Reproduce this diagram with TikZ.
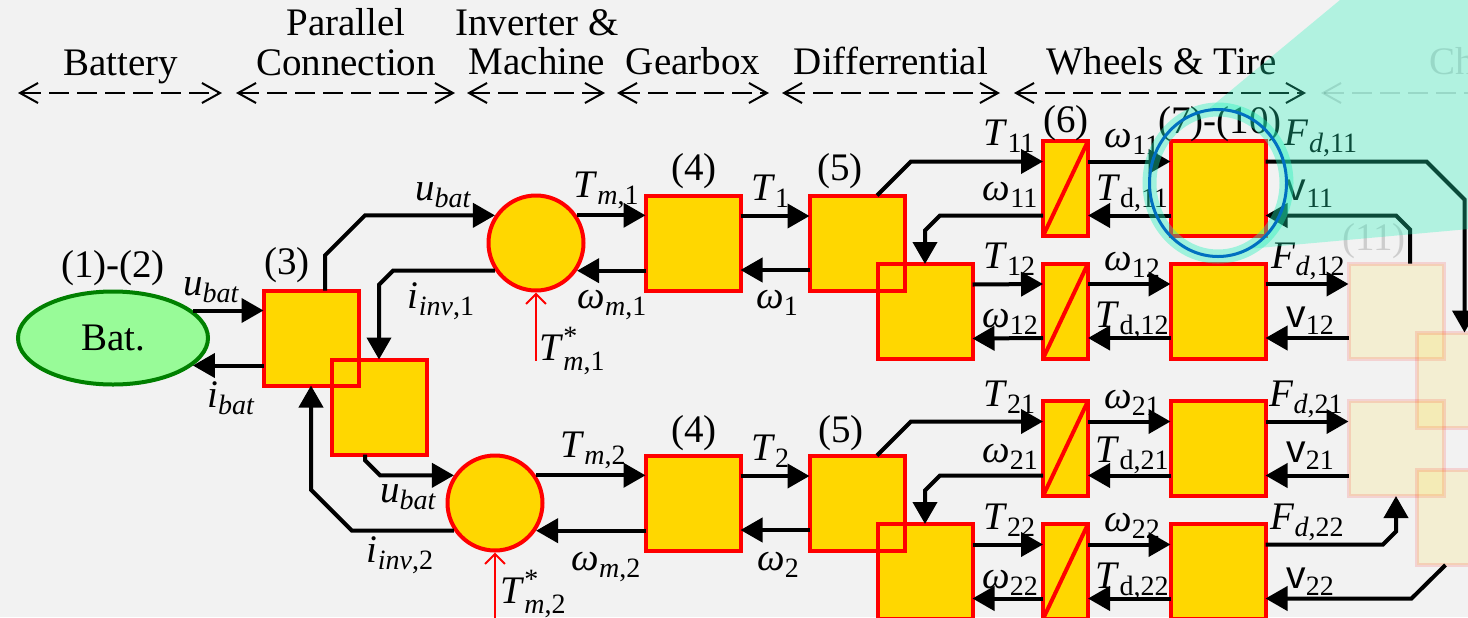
\documentclass[tikz,border=0pt]{standalone}
\usepackage{fontspec}
\setmainfont{Liberation Serif}
\newfontfamily\sansv{Liberation Sans}
\usetikzlibrary{positioning,arrows.meta,calc,shapes.geometric}

\definecolor{boxgold}{RGB}{255,215,0}
\definecolor{batgreen}{RGB}{152,251,152}
\definecolor{batedge}{RGB}{0,128,0}
\definecolor{focusblue}{RGB}{0,112,192}
\definecolor{zoomteal}{RGB}{35,242,187}
\definecolor{bggray}{RGB}{242,242,242}

\newcommand{\subtxt}[1]{\raisebox{-3.5pt}{\fontsize{14}{14}\selectfont #1}}
\newcommand{\vlab}[2]{\textit{#1}\subtxt{#2}}
\newcommand{\tstar}[1]{\textit{T}\rlap{\raisebox{7.5pt}{\fontsize{14}{14}\selectfont *}}\raisebox{-5pt}{\fontsize{14}{14}\selectfont\textit{m},#1}}

\tikzset{
  txt/.style={font=\fontsize{19.5}{22}\selectfont},
  lbl/.style={txt, inner sep=0pt, anchor=base},
  blk/.style={draw=red, fill=boxgold, line width=2pt, minimum width=47.5pt,
    minimum height=47.5pt, inner sep=0pt, outer sep=0pt},
  slipbox/.style={blk, minimum width=22.5pt},
  conv/.style={circle, draw=red, fill=boxgold, line width=2pt, minimum size=47.5pt, inner sep=0pt},
  ghost/.style={blk, opacity=.13},
  edge/.style={draw=red, line width=2pt},
  sig/.style={line width=2pt, -{Triangle[length=11pt,width=12pt]}},
  refsig/.style={red, line width=1pt, -{Straight Barb[length=5pt,width=10pt]}},
  span/.style={line width=1pt, dash pattern=on 10pt off 4pt,
    {Straight Barb[length=9pt,width=10pt]}-{Straight Barb[length=9pt,width=10pt]}},
  focus/.style={ellipse, draw=focusblue, line width=1.5pt, minimum width=68.5pt,
    minimum height=73.5pt, inner sep=0pt,
    preaction={draw=zoomteal, line width=7pt, draw opacity=.4}}
}

\begin{document}
\begin{tikzpicture}[x=0.5pt,y=-0.5pt]
\useasboundingbox (0,0) rectangle (1468,617);
\clip (0,0) rectangle (1468,617);
\fill[bggray] (0,0) rectangle (1468,617);

% stage headers
\foreach \a/\b in {18/222, 236/455, 467/605, 617/769, 782/1000, 1014/1306}
  \draw[span] (\a,93) -- (\b,93);
\draw[span, opacity=.15] (1321,93) -- (1560,93);
\node[lbl] (h-bat) at (121,75) {Battery};
\node[lbl] (h-par1) at (346,35) {Parallel};
\node[lbl] (h-par2) at (346,75) {Connection};
\node[lbl] (h-inv1) at (537,35) {Inverter \&};
\node[lbl] (h-inv2) at (537,74) {Machine};
\node[lbl] (h-gb) at (693,74) {Gearbox};
\node[lbl] (h-dif) at (891,74) {Differrential};
\node[lbl] (h-whl) at (1162,74) {Wheels \& Tire};
\node[lbl, anchor=base west, opacity=.15] (h-ch) at (1429,74) {Chassis};

% battery, parallel connection
\node[ellipse, draw=batedge, fill=batgreen, line width=2pt, minimum width=95pt,
  minimum height=46.5pt, inner sep=0pt, txt] (bat) at (113,338) {Bat.};
\node[blk] (par1) at (311,338) {};
\node[blk] (par2) at (379,407) {};
\draw[edge] (par1.north west) rectangle (par1.south east);

% machines, gearboxes, differentials
\foreach \k/\yc/\xc in {1/243/536, 2/503/495} {
  \node[conv] (inv\k) at (\xc,\yc) {};
  \node[blk] (gb\k) at (693,\yc) {};
  \node[blk] (dif\k) at (857,\yc) {};
  \node[blk] (difb\k) at (925,\yc+68.5) {};
  \draw[edge] (dif\k.north west) rectangle (dif\k.south east);
}

% wheel slip and wheels
\foreach \r/\yc in {11/188.5, 12/311, 21/448.5, 22/571.5} {
  \node[slipbox] (slip\r) at (1065.5,\yc) {};
  \draw[edge] (slip\r.south west) -- (slip\r.north east);
  \node[blk] (whl\r) at (1218,\yc) {};
}

% chassis (faded)
\foreach \g/\xc/\yc in {G1/1396/311, H1/1464.5/380, G2/1396/448.5, H2/1464.5/517.5}
  \node[ghost] (\g) at (\xc,\yc) {};
\node[lbl, opacity=.15] (l-n11) at (1374,250) {(11)};

% battery side
\draw[sig] (bat.19) -- (bat.19 -| par1.west);
\draw[sig] (bat.-19 -| par1.west) -- (bat.-19);
\coordinate (p1n) at ([xshift=7pt]par1.north);
\draw[sig] (p1n) -- ($(p1n |- inv1.146)+(0,40)$) -- ($(p1n |- inv1.146)+(40,0)$) -- (inv1.146);
\draw[sig] (inv1.214) -- ($(par2.north |- inv1.214)+(14,0)$) -- ($(par2.north |- inv1.214)+(0,14)$) -- (par2.north);
\coordinate (p2s) at ([xshift=-7pt]par2.south);
\draw[sig] (p2s) -- ($(p2s |- inv2.146)+(0,-15)$) -- ($(p2s |- inv2.146)+(15,0)$) -- (inv2.146);
\draw[sig] (inv2.214) -- ($(par1.south |- inv2.214)+(41,0)$) -- ($(par1.south |- inv2.214)+(0,-41)$) -- (par1.south);

% torque set points
\coordinate (ref1) at ([yshift=-34pt]inv1.south);
\coordinate (ref2) at ([yshift=-40pt]inv2.south);
\draw[refsig] (ref1) -- (inv1.south);
\draw[refsig] (ref2) -- (inv2.south);

% drive lines
\foreach \k in {1,2} {
  \draw[sig] (inv\k.34) -- (inv\k.34 -| gb\k.west);
  \draw[sig] (gb\k.west |- inv\k.-34) -- (inv\k.-34);
  \draw[sig] ([yshift=13.5pt]gb\k.east) -- ([yshift=13.5pt]dif\k.west);
  \draw[sig] ([yshift=-13.5pt]dif\k.west) -- ([yshift=-13.5pt]gb\k.east);
  \coordinate (dn\k) at ([xshift=10pt]dif\k.north);
  \coordinate (tw\k) at ([yshift=13.5pt]slip\k1.west);
  \draw[sig] (dn\k) -- ($(dn\k |- tw\k)+(34,0)$) -- (tw\k);
  \coordinate (ww\k) at ([yshift=-13.5pt]slip\k1.west);
  \draw[sig] (ww\k) -- ($(difb\k.north |- ww\k)+(15,0)$) -- ($(difb\k.north |- ww\k)+(0,15)$) -- (difb\k.north);
  \draw[sig] ([yshift=13.5pt]difb\k.east) -- ([yshift=13.5pt]slip\k2.west);
  \draw[sig] ([yshift=-13.5pt]slip\k2.west) -- ([yshift=-13.5pt]difb\k.east);
}
\foreach \r in {11,12,21,22} {
  \draw[sig] ([yshift=13.5pt]slip\r.east) -- ([yshift=13.5pt]whl\r.west);
  \draw[sig] ([yshift=-13.5pt]whl\r.west) -- ([yshift=-13.5pt]slip\r.east);
}

% wheels to chassis
\coordinate (f11) at ([yshift=13.5pt]whl11.east);
\draw[sig] (f11) -- ($(H1.north |- f11)+(-38,0)$) -- ($(H1.north |- f11)+(0,38)$) -- (H1.north);
\coordinate (g1n) at ([xshift=7pt]G1.north);
\coordinate (v11) at ([yshift=-13.5pt]whl11.east);
\draw[sig] (g1n) -- ($(g1n |- v11)+(0,14)$) -- ($(g1n |- v11)+(-14,0)$) -- (v11);
\draw[sig] ([yshift=13.5pt]whl12.east) -- ([yshift=13.5pt]G1.west);
\draw[sig] ([yshift=-13.5pt]G1.west) -- ([yshift=-13.5pt]whl12.east);
\draw[sig] ([yshift=13.5pt]whl21.east) -- ([yshift=13.5pt]G2.west);
\draw[sig] ([yshift=-13.5pt]G2.west) -- ([yshift=-13.5pt]whl21.east);
\coordinate (f22) at ([yshift=13.5pt]whl22.east);
\draw[sig] (f22) -- ($(G2.south |- f22)+(-13,0)$) -- ($(G2.south |- f22)+(0,-13)$) -- (G2.south);
\coordinate (h2s) at ([xshift=-9.5pt]H2.south);
\coordinate (v22) at ([yshift=-13.5pt]whl22.east);
\draw[sig] (h2s) -- ($(h2s |- v22)+(-34,0)$) -- (v22);

% labels
\node[lbl] (l-n12) at (113,277) {(1)-(2)};
\node[lbl] (l-n3) at (287,274) {(3)};
\node[lbl] (l-ub0) at (211,295) {\vlab{u}{\textit{bat}}};
\node[lbl] (l-ib0) at (231,407) {\vlab{i}{\textit{bat}}};
\node[lbl] (l-ub1) at (443,200) {\vlab{u}{\textit{bat}}};
\node[lbl] (l-ii1) at (441,308) {\vlab{i}{\textit{inv},1}};
\node[lbl] (l-ub2) at (408,502) {\vlab{u}{\textit{bat}}};
\node[lbl] (l-ii2) at (400,562) {\vlab{i}{\textit{inv},2}};
\node[lbl] (l-tm1) at (606,197) {\vlab{T}{\textit{m},1}};
\node[lbl] (l-wm1) at (612,308) {\vlab{ω}{\textit{m},1}};
\node[lbl] (l-tr1) at (572,360) {\tstar{1}};
\node[lbl] (l-tm2) at (593,457) {\vlab{T}{\textit{m},2}};
\node[lbl] (l-wm2) at (606,570) {\vlab{ω}{\textit{m},2}};
\node[lbl] (l-tr2) at (533,603) {\tstar{2}};
\node[lbl] (l-n4a) at (694,180) {(4)};
\node[lbl] (l-n4b) at (694,442) {(4)};
\node[lbl] (l-t1) at (770,200) {\vlab{T}{1}};
\node[lbl] (l-w1) at (777,308) {\vlab{ω}{1}};
\node[lbl] (l-t2) at (770,460) {\vlab{T}{2}};
\node[lbl] (l-w2) at (778,570) {\vlab{ω}{2}};
\node[lbl] (l-n5a) at (840,180) {(5)};
\node[lbl] (l-n5b) at (841,442) {(5)};
\node[lbl] (l-n6) at (1066,132) {(6)};
\node[lbl] (l-n710) at (1220,133) {(7)-(10)};
\foreach \r/\ya/\yb/\fx in {11/145/200/1321, 12/268/327/1308, 21/406/462/1306, 22/529/588/1307} {
  \node[lbl] (l-T\r) at (1009,\ya) {\vlab{T}{\r}};
  \node[lbl] (l-w\r) at (1010,\yb) {\vlab{ω}{\r}};
  \node[lbl] (l-wr\r) at (1132,\ya+2) {\vlab{ω}{\r}};
  \node[lbl] (l-Td\r) at (1132,\yb) {\vlab{T}{d,\r}};
  \node[lbl] (l-F\r) at (\fx,\ya) {\vlab{F}{\textit{d},\r}};
  \node[lbl] (l-v\r) at (1310,\yb) {{\sansv v}\subtxt{\r}};
}

% zoom highlight
\begin{scope}
  \clip (1340,0) -- (1480,0) -- (1480,228) -- (1236,250) -- (1218,183) -- (1165,145) -- cycle;
  \fill[zoomteal, opacity=.31, even odd rule] (1100,-10) rectangle (1500,300)
    (1218,183) ellipse [x radius=34.25pt, y radius=36.75pt];
\end{scope}
\node[focus] (zoom) at (1218,183) {};
\end{tikzpicture}
\end{document}
